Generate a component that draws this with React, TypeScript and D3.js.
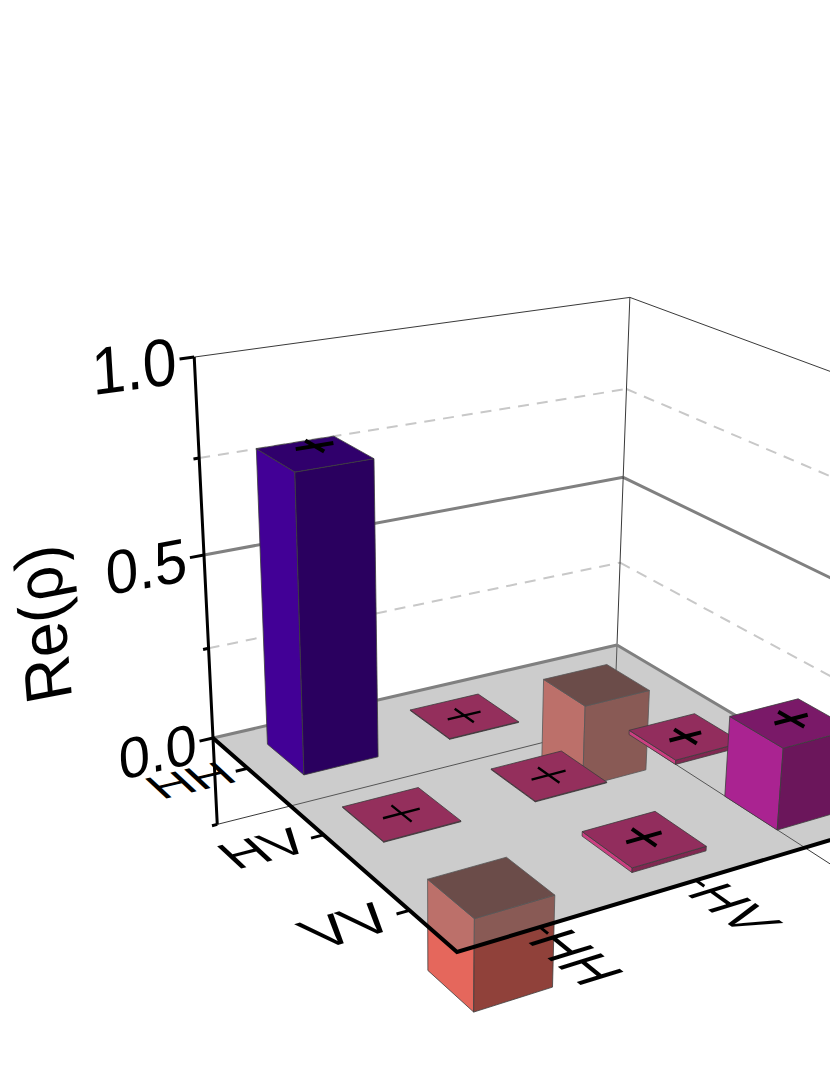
import React, { useEffect, useRef } from "react";
import * as d3 from "d3";

const rowLabels = ["HH", "HV", "VV"];
const colLabels = ["HH", "HV", "VV"];
const zTicks = [1, 0.75, 0.5, 0.25, 0, -0.25];
const zMajorLabels = ["1.0", "0.5", "0.0"];

// bar heights, one list per row
const rowHH = [0.786, 0.002, -0.24];
const rowHV = [0.002, 0.002, 0.012];
const rowVV = [-0.24, 0.012, 0.215];

// the small + markers, null where there is none
const crossHH = [0.805, 0.003, null];
const crossHV = [0.003, 0.003, 0.012];
const crossVV = [null, 0.016, 0.225];

const colorValues = [-0.24, 0, 0.215, 0.786];
const colorRange = ["#e5675c", "#cd4180", "#aa2391", "#420096"];

const width = 830;
const height = 1075;

/* camera fitted on the corners of the box: s runs along the rows, t along the columns */
const project = (s: number, t: number, z: number): [number, number] => {
  const w = -0.17239 * s + 0.10888 * t - 0.0758 * z + 1;
  return [
    (165.22 * s + 471.18 * t - 33.5 * z + 213) / w,
    (49.88 * s - 22.77 * t - 408 * z + 738) / w,
  ];
};

const App = () => {
  const ref = useRef<SVGSVGElement>(null);

  useEffect(() => {
    const svg = d3.select(ref.current);
    svg.selectAll("*").remove();

    const sScale = d3.scaleBand().domain(rowLabels).range([0, 1]).paddingInner(0.5).paddingOuter(0.25);
    const tScale = d3.scaleBand().domain(colLabels).range([0, 1]).paddingInner(0.5).paddingOuter(0.25);
    const color = d3.scaleLinear<string>().domain(colorValues).range(colorRange);
    const line = d3.line();

    const seg = (
      a: [number, number, number],
      b: [number, number, number],
      stroke: string,
      sw: number,
      dash?: string
    ) =>
      svg
        .append("path")
        .attr("d", line([project(...a), project(...b)]))
        .attr("fill", "none")
        .attr("stroke", stroke)
        .attr("stroke-width", sw)
        .attr("stroke-dasharray", dash || null);

    const poly = (pts: [number, number, number][], fill: string, stroke = "#3c3c3c", opacity = 1) =>
      svg
        .append("path")
        .attr("d", line.curve(d3.curveLinearClosed)(pts.map((p) => project(...p))))
        .attr("fill", fill)
        .attr("fill-opacity", opacity)
        .attr("stroke", stroke)
        .attr("stroke-width", stroke === "none" ? 0 : 0.8)
        .attr("stroke-linejoin", "round");

    const shade = (c: string, k: number) => {
      const { r, g, b } = d3.rgb(c);
      return d3.rgb(r * k, g * k, b * k).formatRgb();
    };

    // text laid in a plane of the box, so it keeps the perspective of that plane
    const planeText = (
      str: string,
      at: [number, number, number],
      read: [number, number, number],
      down: [number, number, number],
      size: number
    ) => {
      const [cx, cy] = project(...at);
      if (cx > width) return; // the chart runs off the right of the picture
      const shift = (v: [number, number, number], k: number) =>
        project(at[0] + v[0] * k, at[1] + v[1] * k, at[2] + v[2] * k);
      const e = 0.01;
      const vec = (v: [number, number, number]) => {
        const p = shift(v, e);
        const q = shift(v, -e);
        return [((p[0] - q[0]) / (2 * e)) * (size / 100), ((p[1] - q[1]) / (2 * e)) * (size / 100)];
      };
      const r = vec(read);
      const d = vec(down);
      svg
        .append("text")
        .attr("transform", `matrix(${r[0]} ${r[1]} ${d[0]} ${d[1]} ${cx} ${cy})`)
        .attr("font-family", "Liberation Sans, Arial, sans-serif")
        .attr("font-size", 100)
        .attr("text-anchor", "middle")
        .attr("dy", "0.36em")
        .attr("fill", "#000")
        .text(str);
    };

    const drawBar = (r: string, c: string, v: number) => {
      const s0 = sScale(r)!;
      const s1 = s0 + sScale.bandwidth();
      const t0 = tScale(c)!;
      const t1 = t0 + tScale.bandwidth();
      const base = color(v);
      const topZ = Math.max(v, 0);
      const botZ = Math.min(v, 0);
      poly([[s0, t0, botZ], [s1, t0, botZ], [s1, t0, topZ], [s0, t0, topZ]], base);
      poly([[s1, t0, botZ], [s1, t1, botZ], [s1, t1, topZ], [s1, t0, topZ]], shade(base, 0.63));
      poly([[s0, t0, topZ], [s1, t0, topZ], [s1, t1, topZ], [s0, t1, topZ]], shade(base, v < 0 ? 0.41 : 0.72));
    };

    /* back walls */
    zTicks.forEach((z) => {
      const major = z === 0.5;
      const edge = z === 1 || z === -0.25;
      if (z === 0) return;
      const stroke = edge ? "#222" : major ? "#808080" : "#c8c8c8";
      const sw = edge ? 0.9 : major ? 3 : 2;
      const dash = edge || major ? undefined : "11 8";
      seg([0, 0, z], [0, 1, z], stroke, sw, dash);
      seg([0, 1, z], [1, 1, z], stroke, sw, dash);
    });
    seg([0, 1, 1], [0, 1, -0.25], "#222", 0.9);

    const cells = rowLabels.flatMap((r, i) =>
      colLabels.map((c, j) => ({
        r,
        c,
        value: [rowHH, rowHV, rowVV][i][j],
        cross: [crossHH, crossHV, crossVV][i][j],
        depth: sScale(r)! - tScale(c)!,
      }))
    );
    const ordered = d3.sort(cells, (d) => d.depth);

    // bars under the floor are seen through it
    ordered.filter((d) => d.value < 0).forEach((d) => drawBar(d.r, d.c, d.value));

    poly([[0, 0, 0], [1, 0, 0], [1, 1, 0], [0, 1, 0]], "#808080", "none", 0.4);
    seg([0, 0, 0], [0, 1, 0], "#808080", 3);
    seg([0, 1, 0], [1, 1, 0], "#808080", 3);

    /* axes */
    seg([0, 0, 1], [0, 0, -0.25], "#000", 3);
    svg
      .append("path")
      .attr("d", line.curve(d3.curveLinear)([project(0, 0, 0), project(1, 0, 0), project(1, 1, 0)]))
      .attr("fill", "none")
      .attr("stroke", "#000")
      .attr("stroke-width", 4);

    zTicks.forEach((z) => {
      const long = Math.abs(z * 2 - Math.round(z * 2)) < 1e-6;
      seg([0, 0, z], [0, long ? -0.03 : -0.012, z], "#000", 3);
    });
    rowLabels.forEach((r) => {
      const s = sScale(r)! + sScale.bandwidth() / 2;
      seg([s, 0, 0], [s, -0.026, 0], "#000", 3);
      planeText(r, [s - 0.01, -0.12, 0], [0, 1, 0], [1.3, 0, 0], 0.115);
    });
    colLabels.forEach((c) => {
      const t = tScale(c)! + tScale.bandwidth() / 2;
      seg([1, t, 0], [1.026, t, 0], "#000", 3);
      planeText(c, [1.118, t, 0], [1.1, 0, 0], [0, -1.1, 0], 0.115);
    });

    [1, 0.5, 0].forEach((z, i) => {
      const at: [number, number, number] = [0, -0.122, z];
      planeText(zMajorLabels[i], at, [0, 0.76, 0], [0, 0, -1], 0.16);
    });
    planeText("Re(ρ)", [0, -0.34, 0.4], [0, 0, 1], [0, 0.81, 0], 0.16);

    /* bars above the floor, back to front */
    ordered
      .filter((d) => d.value >= 0)
      .forEach((d) => {
        drawBar(d.r, d.c, d.value);
        if (d.cross === null) return;
        const s = sScale(d.r)! + sScale.bandwidth() / 2;
        const t = tScale(d.c)! + tScale.bandwidth() / 2;
        const sw = d.value > 0.005 ? 4 : 2.4;
        seg([s, t - 0.04, d.cross], [s, t + 0.04, d.cross], "#000", sw);
        seg([s - 0.04, t, d.cross], [s + 0.04, t, d.cross], "#000", sw);
      });
  }, []);

  return (
    <svg
      ref={ref}
      width={width}
      height={height}
      viewBox={`0 0 ${width} ${height}`}
      style={{ position: "absolute", left: 0, top: 0, display: "block", background: "#fff" }}
    />
  );
};

export default App;
